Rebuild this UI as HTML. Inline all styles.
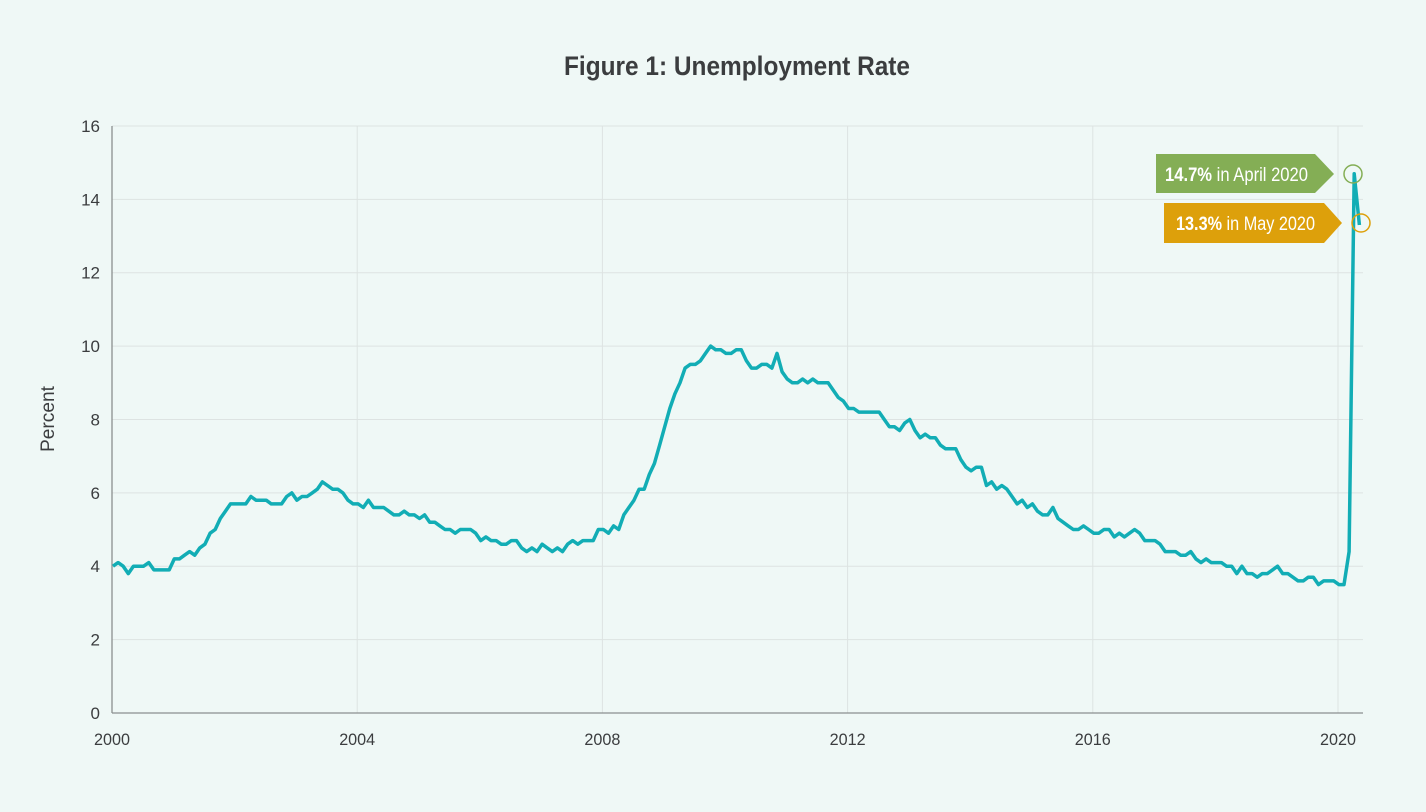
<!DOCTYPE html>
<html><head><meta charset="utf-8"><style>
html,body{margin:0;padding:0;background:#eff8f6;}
svg{display:block;font-family:"Liberation Sans Narrow","Liberation Sans",sans-serif;}
</style></head><body>
<svg id="s" width="1426" height="812" viewBox="0 0 1426 812">
<rect width="1426" height="812" fill="#eff8f6"/>
<text x="737" y="75" text-anchor="middle" font-size="27" font-weight="bold" fill="#3b3d3f" textLength="346" lengthAdjust="spacingAndGlyphs">Figure 1: Unemployment Rate</text>
<g id="grid" stroke="#dde3e2" stroke-width="1"></g>
<g id="lab" fill="#3b3d3f" font-size="17"></g>
<line x1="112" y1="126" x2="112" y2="713" stroke="#8a8f8f" stroke-width="1.3"/>
<line x1="112" y1="713" x2="1363" y2="713" stroke="#8a8f8f" stroke-width="1.3"/>
<text transform="translate(54,419) rotate(-90)" text-anchor="middle" font-size="19" fill="#3b3d3f" textLength="66" lengthAdjust="spacingAndGlyphs">Percent</text>
<polyline id="ln" fill="none" stroke="#12adb5" stroke-width="3.5" stroke-linejoin="round"/>
<polygon points="1156,154 1315,154 1334,174 1315,193 1156,193" fill="#84ae55"/>
<text x="1165" y="181" font-size="19" fill="#fff" textLength="143" lengthAdjust="spacingAndGlyphs"><tspan font-weight="bold">14.7%</tspan> in April 2020</text>
<polygon points="1164,203 1324,203 1342,223 1324,243 1164,243" fill="#dda00b"/>
<text x="1176" y="230" font-size="19" fill="#fff" textLength="139" lengthAdjust="spacingAndGlyphs"><tspan font-weight="bold">13.3%</tspan> in May 2020</text>
<circle cx="1353" cy="174" r="9" fill="none" stroke="#84ae55" stroke-width="1.5"/>
<circle cx="1361" cy="223" r="9" fill="none" stroke="#dda00b" stroke-width="1.5"/>
</svg>
<script>
var d=[4.0,4.1,4.0,3.8,4.0,4.0,4.0,4.1,3.9,3.9,3.9,3.9,
4.2,4.2,4.3,4.4,4.3,4.5,4.6,4.9,5.0,5.3,5.5,5.7,
5.7,5.7,5.7,5.9,5.8,5.8,5.8,5.7,5.7,5.7,5.9,6.0,
5.8,5.9,5.9,6.0,6.1,6.3,6.2,6.1,6.1,6.0,5.8,5.7,
5.7,5.6,5.8,5.6,5.6,5.6,5.5,5.4,5.4,5.5,5.4,5.4,
5.3,5.4,5.2,5.2,5.1,5.0,5.0,4.9,5.0,5.0,5.0,4.9,
4.7,4.8,4.7,4.7,4.6,4.6,4.7,4.7,4.5,4.4,4.5,4.4,
4.6,4.5,4.4,4.5,4.4,4.6,4.7,4.6,4.7,4.7,4.7,5.0,
5.0,4.9,5.1,5.0,5.4,5.6,5.8,6.1,6.1,6.5,6.8,7.3,
7.8,8.3,8.7,9.0,9.4,9.5,9.5,9.6,9.8,10.0,9.9,9.9,
9.8,9.8,9.9,9.9,9.6,9.4,9.4,9.5,9.5,9.4,9.8,9.3,
9.1,9.0,9.0,9.1,9.0,9.1,9.0,9.0,9.0,8.8,8.6,8.5,
8.3,8.3,8.2,8.2,8.2,8.2,8.2,8.0,7.8,7.8,7.7,7.9,
8.0,7.7,7.5,7.6,7.5,7.5,7.3,7.2,7.2,7.2,6.9,6.7,
6.6,6.7,6.7,6.2,6.3,6.1,6.2,6.1,5.9,5.7,5.8,5.6,
5.7,5.5,5.4,5.4,5.6,5.3,5.2,5.1,5.0,5.0,5.1,5.0,
4.9,4.9,5.0,5.0,4.8,4.9,4.8,4.9,5.0,4.9,4.7,4.7,
4.7,4.6,4.4,4.4,4.4,4.3,4.3,4.4,4.2,4.1,4.2,4.1,
4.1,4.1,4.0,4.0,3.8,4.0,3.8,3.8,3.7,3.8,3.8,3.9,
4.0,3.8,3.8,3.7,3.6,3.6,3.7,3.7,3.5,3.6,3.6,3.6,
3.5,3.5,4.4,14.7,13.3];
var ns="http://www.w3.org/2000/svg";
function X(i){return 113+i*5.108;}function Y(v){return 713-v*36.69;}
document.getElementById('ln').setAttribute('points',d.map(function(v,i){return X(i).toFixed(1)+','+Y(v).toFixed(1)}).join(' '));
var g=document.getElementById('grid'),lb=document.getElementById('lab');
function el(p,t,a){var e=document.createElementNS(ns,t);for(var k in a)e.setAttribute(k,a[k]);p.appendChild(e);return e;}
for(var v=2;v<=16;v+=2){var y=Y(v);el(g,'line',{x1:112,x2:1363,y1:y,y2:y});}
for(var v=0;v<=16;v+=2){var t=el(lb,'text',{x:100,y:Y(v)+6,'text-anchor':'end'});t.textContent=v;}
for(var yr=2000;yr<=2020;yr+=4){var x=112+(yr-2000)*61.3;if(yr>2000)el(g,'line',{x1:x,x2:x,y1:126,y2:713});var t=el(lb,'text',{x:x,y:745,'text-anchor':'middle',textLength:36,lengthAdjust:'spacingAndGlyphs'});t.textContent=yr;}
</script>
</body></html>
